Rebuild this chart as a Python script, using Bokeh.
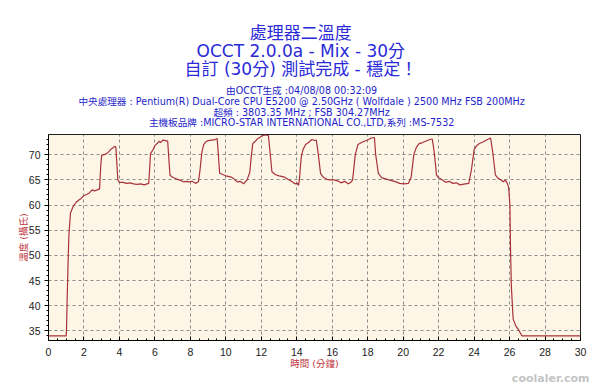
from bokeh.plotting import figure
from bokeh.models import FixedTicker, Range1d, Title
from bokeh.embed import file_html
from bokeh.resources import INLINE

# ---- data ----
time_min = [0, 1.0, 1.02, 1.05, 1.1, 1.15, 1.24, 1.4, 1.55, 1.71, 1.85, 2.0, 2.15, 2.3, 2.46, 2.6, 2.75, 2.88,
            2.95, 3.0, 3.15, 3.27, 3.4, 3.5, 3.62, 3.74, 3.8, 3.85, 3.91, 4.0, 4.2, 4.4, 4.6, 4.8, 5.0, 5.2,
            5.4, 5.56, 5.65, 5.71, 5.75, 5.9, 6.0, 6.13, 6.25, 6.32, 6.45, 6.6, 6.72, 6.79, 6.85, 7.0, 7.2,
            7.44, 7.6, 7.8, 7.91, 8.1, 8.29, 8.45, 8.53, 8.65, 8.75, 8.86, 9.0, 9.2, 9.4, 9.51, 9.58, 9.65,
            9.8, 10.0, 10.27, 10.45, 10.64, 10.8, 11.0, 11.1, 11.2, 11.35, 11.43, 11.52, 11.65, 11.77, 11.95,
            12.1, 12.24, 12.4, 12.48, 12.6, 12.8, 13.0, 13.27, 13.5, 13.74, 13.9, 14.03, 14.1, 14.16, 14.25,
            14.35, 14.5, 14.7, 14.85, 15.0, 15.1, 15.2, 15.34, 15.5, 15.7, 15.9, 16.1, 16.3, 16.5, 16.7, 16.9,
            17.05, 17.15, 17.3, 17.45, 17.65, 17.85, 18.05, 18.2, 18.38, 18.45, 18.6, 18.8, 19.0, 19.2, 19.4,
            19.6, 19.8, 20.04, 20.3, 20.45, 20.6, 20.75, 20.9, 21.1, 21.3, 21.5, 21.64, 21.75, 21.88, 22.0,
            22.2, 22.4, 22.6, 22.8, 23.0, 23.2, 23.5, 23.7, 23.85, 24.0, 24.15, 24.3, 24.5, 24.7, 24.93, 25.05,
            25.2, 25.35, 25.5, 25.65, 25.75, 25.87, 25.95, 26.02, 26.05, 26.1, 26.2, 26.35, 26.53, 26.7, 30.0]
temp_c = [34, 34, 36, 41, 48, 54, 58.4, 59.8, 60.5, 61.0, 61.3, 61.9, 62.1, 62.4, 63.0, 62.8, 63.0, 63.2,
          68, 69.9, 70.0, 70.2, 70.6, 71.0, 71.3, 71.7, 71.4, 68.5, 65.0, 64.5, 64.5, 64.3, 64.4, 64.2, 64.1, 64.2,
          64.0, 64.2, 64.3, 67.5, 70.2, 71.0, 71.8, 72.2, 72.7, 72.4, 72.9, 72.8, 72.7, 69, 65.9, 65.5, 65.2,
          64.9, 64.6, 64.7, 64.6, 64.7, 64.3, 64.6, 66.5, 70.5, 72.0, 72.5, 72.8, 72.9, 73.0, 73.2, 70.0, 66.3,
          66.1, 65.8, 65.6, 65.2, 64.6, 64.7, 64.2, 64.6, 65.0, 66.5, 69.5, 72.2, 72.6, 73.1, 73.5,
          73.8, 73.9, 73.8, 71, 66.6, 66.0, 65.8, 65.6, 65.1, 64.6, 64.2, 64.3, 63.9, 65.5, 69.5,
          71.0, 72.0, 72.5, 73.0, 72.8, 72.9, 70.5, 66.3, 65.5, 65.1, 65.0, 65.0, 64.8, 64.4, 64.7, 64.2,
          64.5, 65.0, 70.0, 72.0, 72.4, 72.7, 73.0, 73.3, 73.4, 70.0, 66.3, 65.4, 65.2, 65.0, 64.8,
          64.6, 64.3, 64.2, 64.3, 65.5, 70.0, 71.5, 72.2, 72.4, 72.7, 73.0, 73.1, 70.5, 66.0, 65.4,
          65.0, 64.5, 64.7, 64.3, 64.4, 64.0, 64.2, 64.3, 67, 71.0, 71.8, 72.2, 72.5, 72.9, 73.3, 70.5,
          66.0, 65.3, 65.0, 64.6, 65.0, 64.3, 63.5, 60, 52, 44, 37.4, 36.0, 35.1, 34.0, 34.0]

x_ticks = list(range(0, 31, 2))
y_ticks = list(range(35, 71, 5))

title_lines = ["處理器二溫度", "OCCT 2.0.0a - Mix - 30分", "自訂 (30分) 測試完成 - 穩定！"]
info_lines = ["由OCCT生成 :04/08/08 00:32:09",
              "中央處理器 : Pentium(R) Dual-Core CPU E5200 @ 2.50GHz ( Wolfdale ) 2500 MHz FSB 200MHz",
              "超頻 : 3803.35 MHz ; FSB 304.27MHz",
              "主機板品牌 :MICRO-STAR INTERNATIONAL CO.,LTD,系列 :MS-7532"]
x_label = "時間 (分鐘)"
y_label = "溫度 (攝氏)"
watermark = "coolaler.com"

W, H = 600, 386
FL, FR, FT, FB = 48, 580, 134, 342   # frame edges on the page
MIX = "DejaVu Sans, Noto Sans CJK TC"

p = figure(width=W, height=H, output_backend="svg", toolbar_location=None,
           x_range=Range1d(0, 30), y_range=Range1d(33.1, 74),
           min_border_left=FL, min_border_right=W - FR, min_border_top=FT, min_border_bottom=H - FB)
p.background_fill_color = "#FDF6E6"
p.border_fill_color = "white"
p.outline_line_color = "#222222"
p.outline_line_width = 1

p.line(time_min, temp_c, line_color="#A8323A", line_width=1.2)

# axes
p.xaxis.ticker = FixedTicker(ticks=x_ticks, minor_ticks=[i * 0.5 for i in range(61)])
p.yaxis.ticker = FixedTicker(ticks=y_ticks, minor_ticks=list(range(34, 74)))
for ax in (p.xaxis[0], p.yaxis[0]):
    ax.axis_line_color = "black"
    ax.major_tick_line_color = "black"
    ax.minor_tick_line_color = "black"
    ax.major_label_text_font = "Liberation Sans"
    ax.major_label_text_font_size = "10.5px"
    ax.major_label_text_color = "#222222"
    ax.axis_label_text_font = MIX
    ax.axis_label_text_font_size = "9.5px"
    ax.axis_label_text_font_style = "normal"
    ax.axis_label_text_color = "#C0343C"
p.xaxis.major_tick_in = 4
p.xaxis.major_tick_out = 0
p.xaxis.minor_tick_in = 2
p.xaxis.minor_tick_out = 0
p.xaxis.major_label_standoff = 7
p.xaxis.axis_label = x_label
p.xaxis.axis_label_standoff = -1
p.yaxis.major_tick_in = 0
p.yaxis.major_tick_out = 4
p.yaxis.minor_tick_in = 0
p.yaxis.minor_tick_out = 2
p.yaxis.major_label_standoff = 4
p.yaxis.axis_label = y_label
p.yaxis.axis_label_standoff = -3

p.xgrid.ticker = FixedTicker(ticks=x_ticks)
p.ygrid.ticker = FixedTicker(ticks=y_ticks)
for g in (p.xgrid[0], p.ygrid[0]):
    g.grid_line_color = "#8C8C8C"
    g.grid_line_dash = "3 3"
    g.grid_line_width = 1

# header texts as stacked titles (first added sits nearest the frame);
# blocks are left-anchored with an offset so that they centre on the page (x=300)
center_kw = {"text_align": "center"} if "text_align" in Title.properties() else {}
info_title = Title(text="\n".join(info_lines), align="left", offset=30, vertical_align="bottom",
                   text_font=MIX, text_font_size="9.6px", text_font_style="normal",
                   text_color="#1E1EC8", text_line_height=0.97, standoff=12, **center_kw)
main_title = Title(text="\n".join(title_lines), align="left", offset=136, vertical_align="bottom",
                   text_font=MIX, text_font_size="17px", text_font_style="normal",
                   text_color="#2A2AD8", text_line_height=0.885, standoff=-2.5, **center_kw)
p.add_layout(info_title, "above")
p.add_layout(main_title, "above")

# watermark text under the x axis, right side
mark = Title(text=watermark, align="right", vertical_align="top", offset=-9, standoff=0,
             text_font="DejaVu Sans", text_font_size="11px", text_font_style="bold",
             text_color="#C4C4C4")
p.add_layout(mark, "below")

open("out.html", "w").write(file_html(p, INLINE))
